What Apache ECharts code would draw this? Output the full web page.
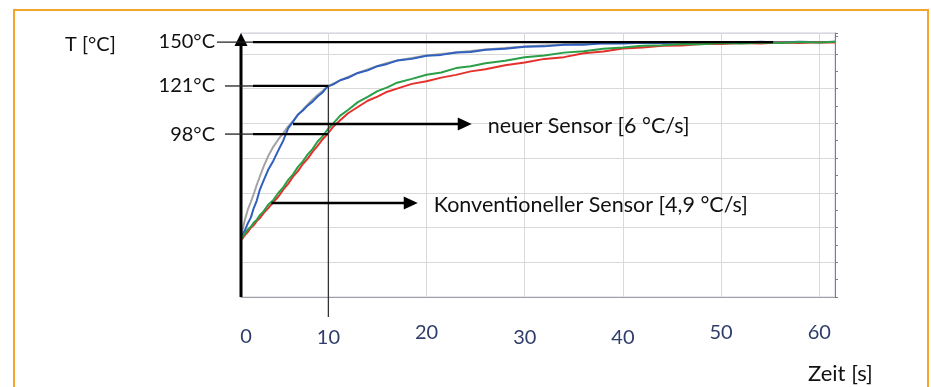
<!DOCTYPE html>
<html><head><meta charset="utf-8">
<script src="https://cdn.jsdelivr.net/npm/echarts@6/dist/echarts.min.js"></script>
<style>html,body{margin:0;padding:0;background:#fff}#c{width:931px;height:387px}</style>
</head><body><div id="c"></div>
<script>
// Zeit [s]
const zeit = [1.1,1.3,1.5,1.8,2.1,2.4,2.7,3.0,3.4,3.9,4.4,4.9,5.4,5.9,6.4,6.9,7.4,7.9,8.4,8.9,9.4,9.9,
  10.5,11.2,12.0,13.0,14.0,15.0,16.0,17.0,18.5,20.0,21.5,23.0,24.5,26.0,
  28,30,32,34,36,38,40,42,44,46,48,50,52,54,56,58,60,61.6];
// Temperaturen [°C]
const grauNeu = [34.0,39.7,44.6,50.4,54.7,59.3,64.5,69.1,75.1,81.5,86.6,90.7,94.4,98.2,101.3,104.8,107.9,110.8,113.7,116.3,118.6,121.2,
  122.9,124.7,126.7,129.0,131.0,133.0,134.7,136.2,137.6,139.0,139.9,140.8,141.6,142.5,
  143.4,144.2,144.8,145.4,145.8,146.1,146.3,146.4,146.5,146.6,146.6,146.7,146.7,146.8,146.8,146.8,146.8,146.8];
const blauNeu = [34.0,36.6,38.3,42.5,45.7,51.2,55.4,61.5,67.0,73.6,78.5,84.4,90.0,97.1,101.0,105.1,107.4,110.3,112.5,115.4,117.7,121.1,
  122.4,124.8,126.2,129.0,130.5,132.9,134.2,136.1,137.1,138.9,139.4,140.8,141.1,142.4,
  142.9,144.1,144.3,145.3,145.3,146.1,145.9,146.4,146.2,146.7,146.4,146.8,146.5,146.9,146.6,147.0,146.7,146.9];
const gruenKonv = [33.4,35.0,36.1,38.9,40.4,42.9,44.4,46.9,49.3,53.3,55.9,59.9,63.1,67.4,70.6,74.9,78.1,82.1,85.3,89.5,92.5,96.3,
  100.0,104.4,107.7,112.2,115.2,118.5,120.7,123.4,125.6,128.0,129.3,131.8,132.8,134.6,
  136.0,138.1,139.1,140.7,141.5,142.9,143.6,144.7,144.9,145.6,145.5,146.2,146.0,146.5,146.3,146.8,146.5,146.9];
const rotKonv = [32.8,34.1,35.6,37.5,39.9,41.3,43.7,45.3,48.3,51.3,54.6,57.7,61.8,65.1,69.3,72.5,76.6,79.7,83.7,87.0,90.7,93.8,
  98.1,101.7,105.8,109.4,113.0,115.4,118.2,120.0,122.7,124.2,126.3,127.9,129.9,131.1,
  133.4,135.0,137.1,138.1,140.4,141.4,143.1,143.6,144.7,144.8,145.6,145.6,146.3,146.0,146.5,146.3,146.7,146.6];
// Achsenbeschriftung
const xTickLabels = ['0','10','20','30','40','50','60'];
const xTickValues = [0,10,20,30,40,50,60];
const xGridValues = [10,20,30,40,50,60];
// Markierungen
const annoLabels = ['150°C','121°C','98°C'];
const annoValues = [146.8,121.5,93.8];
const markerTime = 10;
const labelNeu = 'neuer Sensor [6 °C/s]';
const labelKonv = 'Konventioneller Sensor [4,9 °C/s]';

const FONT = 'Lato, "Open Sans", sans-serif';
const chart = echarts.init(document.getElementById('c'), null, {renderer:'canvas'});
const pairs = a => zeit.map((t,i)=>[t,a[i]]);
const mkLine = (name,arr,color,z) => ({name,type:'line',data:pairs(arr),showSymbol:false,symbol:'none',
  lineStyle:{color,width:2},itemStyle:{color},z,animation:false,silent:true});

const gray = mkLine('grau',grauNeu,'#a3a3a3',2);
gray.markLine = {silent:true,symbol:'none',z:1,label:{show:false},
  lineStyle:{color:'#d9d9d9',width:1,type:'solid'},animation:false,
  data:xGridValues.map(v=>({xAxis:v}))};

chart.setOption({
  animation:false,
  grid:{left:241,right:96,top:33,bottom:90,show:true,borderColor:'#c9d1dc',borderWidth:1},
  xAxis:{type:'value',min:1.1,max:61.6,axisLabel:{show:false},axisTick:{show:false},splitLine:{show:false},
    axisLine:{show:true,lineStyle:{color:'#a0a0a0',width:1}}},
  yAxis:[
    {type:'value',min:0,max:152,interval:20,axisLabel:{show:false},axisTick:{show:false},axisLine:{show:false},
      splitLine:{show:true,lineStyle:{color:'#d9d9d9',width:1}}},
    {type:'value',position:'right',min:0,max:152,interval:10,axisLabel:{show:false},splitLine:{show:false},
      axisTick:{show:true,length:3,lineStyle:{color:'#7f7f7f'}},axisLine:{show:true,lineStyle:{color:'#7f7f7f',width:1}}}
  ],
  series:[gray, mkLine('blau',blauNeu,'#2f5fbf',3), mkLine('rot',rotKonv,'#e5312b',4), mkLine('gruen',gruenKonv,'#2a9f47',5)]
});

function px(t,v){ return chart.convertToPixel({gridIndex:0},[t,v]); }
const g = [];
const Z = 100;
// orange frame
g.push({type:'rect',z:Z,shape:{x:14,y:10,width:914,height:420},style:{fill:'none',stroke:'#f5a52a',lineWidth:2}});
const p0 = px(1.1,0);
const ax = p0[0], yb = p0[1];
const yt = px(1.1,152)[1];
// y axis arrow
g.push({type:'line',z:Z,shape:{x1:ax,y1:yb,x2:ax,y2:yt+10},style:{stroke:'#000',lineWidth:3}});
g.push({type:'polygon',z:Z,shape:{points:[[ax,yt],[ax-6.5,yt+13],[ax+6.5,yt+13]]},style:{fill:'#000'}});
// annotation lines
annoLabels.forEach((lab,i)=>{
  const y = px(1.1,annoValues[i])[1];
  const endT = i===0 ? 55.3 : markerTime;
  const xe = px(endT,annoValues[i])[0];
  const xs = i===0 ? ax-24 : ax-16;
  g.push({type:'line',z:Z,shape:{x1:xs,y1:y,x2:ax+12,y2:y},style:{stroke:'#222',lineWidth:1.3}});
  g.push({type:'line',z:Z,shape:{x1:ax+12,y1:y,x2:xe,y2:y},style:{stroke:'#000',lineWidth:2.2}});
  g.push({type:'text',z:Z,style:{text:lab,x:215,y:y,align:'right',verticalAlign:'middle',font:'20px '+FONT,fill:'#111'}});
});
// vertical marker at 10 s
const mx = px(markerTime,0)[0];
g.push({type:'line',z:Z,shape:{x1:mx,y1:px(markerTime,annoValues[1])[1],x2:mx,y2:yb+20},style:{stroke:'#333',lineWidth:1.3}});
// arrows
function arrow(t0,t1,v,text){
  const a = px(t0,v), b = px(t1,v);
  g.push({type:'line',z:Z,shape:{x1:a[0],y1:a[1],x2:b[0]-10,y2:b[1]},style:{stroke:'#000',lineWidth:2.5}});
  g.push({type:'polygon',z:Z,shape:{points:[[b[0],b[1]],[b[0]-14,b[1]-6.5],[b[0]-14,b[1]+6.5]]},style:{fill:'#000'}});
  g.push({type:'text',z:Z,style:{text,x:b[0]+16,y:b[1]+2,align:'left',verticalAlign:'middle',font:'21.5px '+FONT,fill:'#111'}});
}
arrow(6.4,24.6,99.6,labelNeu);
arrow(4.2,19.1,54.1,labelKonv);
// x tick labels
const yOff = [40,41,36,41,41,36,36];
xTickValues.forEach((v,i)=>{
  const x = i===0 ? ax+5 : px(v,0)[0];
  g.push({type:'text',z:Z,style:{text:xTickLabels[i],x:x,y:yb+yOff[i],align:'center',verticalAlign:'middle',font:'20px '+FONT,fill:'#2f3d6b'}});
});
// axis titles
g.push({type:'text',z:Z,style:{text:'T [°C]',x:65,y:45,align:'left',verticalAlign:'middle',font:'20px '+FONT,fill:'#111'}});
g.push({type:'text',z:Z,style:{text:'Zeit [s]',x:808,y:374,align:'left',verticalAlign:'middle',font:'22px '+FONT,fill:'#111'}});
chart.setOption({graphic:{elements:g}});
</script></body></html>
